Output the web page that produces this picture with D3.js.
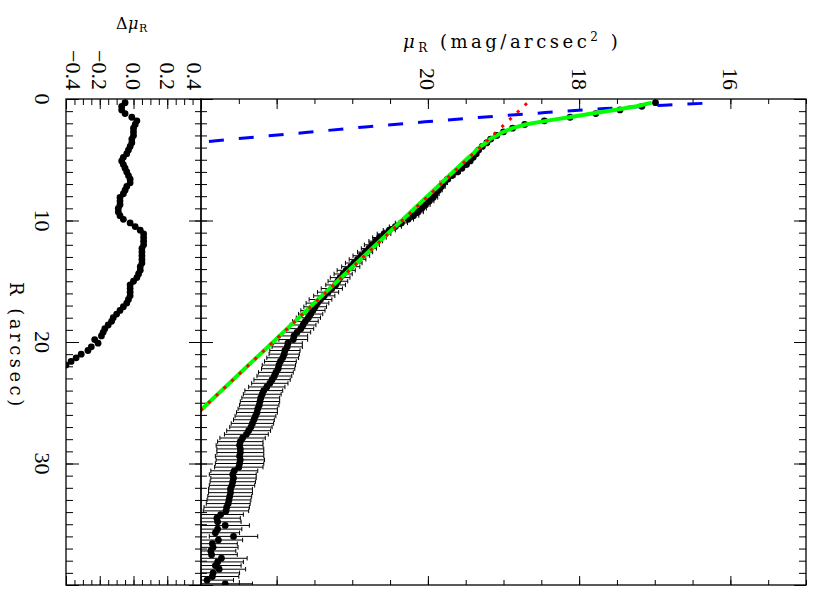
<!DOCTYPE html>
<html>
<head>
<meta charset="utf-8">
<script src="https://cdn.jsdelivr.net/npm/d3@7"></script>
<style>
  html, body { margin: 0; padding: 0; background: #fff; }
  svg { display: block; }
</style>
</head>
<body>
<svg id="chart" width="817" height="593"></svg>
<script>
// Radial surface-brightness profile (R band) with bulge/disk decomposition

// sampled radii (arcsec)
const radius = [
  0.3,0.6,0.9,1.2,1.5,1.8,2.1,2.4,2.7,
  3.0,3.3,3.6,3.9,4.2,4.5,4.8,5.1,5.4,5.7,
  6.0,6.3,6.6,6.9,7.2,7.5,7.8,8.1,8.4,8.7,
  9.0,9.3,9.6,9.9,10.2,10.5,10.8,11.1,11.4,11.7,
  12.0,12.3,12.6,12.9,13.2,13.5,13.8,14.1,14.4,14.7,
  15.0,15.3,15.6,15.9,16.2,16.5,16.8,17.1,17.4,17.7,
  18.0,18.3,18.6,18.9,19.2,19.5,19.8,20.1,20.4,20.7,
  21.0,21.3,21.6,21.9,22.2,22.5,22.8,23.1,23.4,23.7,
  24.0,24.3,24.6,24.9,25.2,25.5,25.8,26.1,26.4,26.7,
  27.0,27.3,27.6,27.9,28.2,28.5,28.8,29.1,29.4,29.7,
  30.0,30.3,30.6,30.9,31.2,31.5,31.8,32.1,32.4,32.7,
  33.0,33.3,33.6,33.9,34.2,34.5,34.8,35.1,35.4,35.7,
  36.0,36.3,36.6,36.9,37.2,37.5,37.8,38.1,38.4,38.7,
  39.0,39.3,39.6,39.9
];

// observed surface brightness (mag/arcsec^2)
const muObs = [
  16.99,17.17,17.46,17.78,18.12,18.46,18.72,18.88,19.00,
  19.09,19.17,19.22,19.28,19.33,19.36,19.40,19.44,19.49,19.55,
  19.61,19.68,19.74,19.79,19.82,19.86,19.90,19.93,19.98,20.03,
  20.08,20.13,20.19,20.26,20.35,20.43,20.51,20.58,20.64,20.69,
  20.74,20.78,20.83,20.88,20.93,20.98,21.02,21.08,21.12,21.16,
  21.19,21.22,21.27,21.32,21.37,21.42,21.46,21.49,21.52,21.55,
  21.58,21.62,21.65,21.68,21.73,21.77,21.78,21.85,21.86,21.89,
  21.90,21.92,21.95,21.97,21.98,22.01,22.03,22.06,22.09,22.13,
  22.17,22.19,22.21,22.22,22.23,22.25,22.26,22.28,22.30,22.32,
  22.34,22.37,22.40,22.45,22.48,22.49,22.48,22.48,22.49,22.48,
  22.49,22.50,22.56,22.58,22.57,22.58,22.59,22.61,22.61,22.62,
  22.63,22.64,22.66,22.67,22.74,22.79,22.78,22.68,22.78,22.81,
  22.57,22.77,22.85,22.84,22.87,22.86,22.73,22.78,22.81,22.76,
  22.84,22.85,22.92,22.68
];

// 1-sigma uncertainty of each measurement (mag)
const muErr = [
  0.02,0.02,0.02,0.02,0.02,0.02,0.02,0.02,0.02,
  0.03,0.03,0.03,0.03,0.03,0.03,0.03,0.03,0.03,0.03,
  0.04,0.04,0.04,0.05,0.05,0.05,0.05,0.06,0.06,0.06,
  0.06,0.07,0.07,0.07,0.08,0.08,0.08,0.09,0.09,0.09,
  0.10,0.10,0.10,0.11,0.11,0.11,0.12,0.12,0.12,0.13,
  0.13,0.13,0.14,0.14,0.14,0.15,0.15,0.15,0.16,0.16,
  0.16,0.17,0.17,0.17,0.18,0.18,0.19,0.19,0.20,0.20,
  0.20,0.21,0.21,0.22,0.22,0.23,0.23,0.24,0.24,0.24,
  0.25,0.25,0.25,0.26,0.26,0.26,0.27,0.27,0.27,0.28,
  0.28,0.29,0.29,0.30,0.30,0.31,0.31,0.31,0.32,0.32,
  0.32,0.32,0.31,0.31,0.30,0.30,0.30,0.29,0.29,0.29,
  0.29,0.29,0.30,0.30,0.30,0.31,0.31,0.32,0.32,0.32,
  0.32,0.32,0.33,0.33,0.33,0.34,0.34,0.34,0.34,0.35,
  0.35,0.35,0.35,0.36
];

// observed minus model (mag), for the inner radii
const residual = [
  -0.05,-0.07,-0.07,-0.05,-0.01,0.02,0.01,0.00,0.00,
  0.00,-0.01,-0.01,-0.02,-0.03,-0.04,-0.06,-0.07,-0.06,-0.05,
  -0.04,-0.03,-0.02,-0.02,-0.04,-0.05,-0.06,-0.08,-0.08,-0.08,
  -0.09,-0.09,-0.08,-0.06,-0.02,0.01,0.04,0.06,0.06,0.06,
  0.06,0.05,0.05,0.05,0.05,0.05,0.04,0.04,0.03,0.02,
  0.00,-0.02,-0.02,-0.02,-0.02,-0.03,-0.04,-0.06,-0.08,-0.10,
  -0.12,-0.13,-0.15,-0.17,-0.18,-0.19,-0.23,-0.21,-0.25,-0.27,
  -0.31,-0.34,-0.37,-0.40
];

// total model (bulge + disk)
const totalR  = [0.3,0.6,0.9,1.2,1.5,1.8,2.1,2.4,2.7,3.0,3.3,3.6,3.9,4.2,4.5,4.8,26.0];
const totalMu = [17.04,17.24,17.53,17.83,18.13,18.44,18.71,18.88,19.00,19.09,19.18,19.23,19.30,19.36,19.40,19.46,23.07];

// exponential disk component
const diskR  = [0.35, 26.0];
const diskMu = [18.69, 23.07];

// bulge component
const bulgeR  = [0.36,0.51,0.79,1.12,1.48,1.88,2.30,2.76,3.21,3.60];
const bulgeMu = [16.37,16.88,17.66,18.45,19.24,20.04,20.83,21.62,22.42,23.05];

// tick labels
const muTickLabels  = [20, 18, 16];
const resTickLabels = [-0.4, -0.2, 0.0, 0.2, 0.4];
const rTickLabels   = [0, 10, 20, 30];

// ---------------------------------------------------------------
const svg = d3.select("#chart");
const frame = { top: 99, bottom: 585, resLeft: 66, split: 201, right: 806 };

const yR   = d3.scaleLinear().domain([0, 40]).range([frame.top, frame.bottom]);
const xMu  = d3.scaleLinear().domain([23, 15]).range([frame.split, frame.right]);
const xRes = d3.scaleLinear().domain([-0.4, 0.4]).range([frame.resLeft, frame.split]);

const tickFont = "'Liberation Serif', 'Times New Roman', serif";
const titleFont = "'DejaVu Serif', serif";

const defs = svg.append("defs");
defs.append("clipPath").attr("id", "clipMain").append("rect")
  .attr("x", frame.split).attr("y", frame.top)
  .attr("width", frame.right - frame.split).attr("height", frame.bottom - frame.top);
defs.append("clipPath").attr("id", "clipRes").append("rect")
  .attr("x", frame.resLeft).attr("y", frame.top)
  .attr("width", frame.split - frame.resLeft).attr("height", frame.bottom - frame.top);

// ---- ticks ----
function ticks(axisFn, scale, values, size, transform) {
  const g = svg.append("g")
    .attr("transform", transform)
    .call(axisFn(scale).tickValues(values).tickSize(-size).tickFormat(""));
  g.select(".domain").remove();
  g.selectAll(".tick line").attr("stroke", "#000").attr("stroke-width", 1);
  g.selectAll("text").remove();
}

const rMinor  = d3.range(0, 40.01, 1);
const rMajor  = d3.range(0, 40.01, 10);
const muMinor = d3.range(15, 23.01, 0.5);
const muMajor = d3.range(16, 23.01, 2);
const resMinor = d3.range(-0.4, 0.4001, 0.05).map(v => +v.toFixed(2));
const resMajor = [-0.4, -0.2, 0, 0.2, 0.4];

// main panel
ticks(d3.axisTop, xMu, muMinor, 5, `translate(0,${frame.top})`);
ticks(d3.axisTop, xMu, muMajor, 10, `translate(0,${frame.top})`);
ticks(d3.axisBottom, xMu, muMinor, 5, `translate(0,${frame.bottom})`);
ticks(d3.axisBottom, xMu, muMajor, 9, `translate(0,${frame.bottom})`);
ticks(d3.axisLeft, yR, rMinor, 6, `translate(${frame.split},0)`);
ticks(d3.axisLeft, yR, rMajor, 12, `translate(${frame.split},0)`);
ticks(d3.axisRight, yR, rMinor, 7, `translate(${frame.right},0)`);
ticks(d3.axisRight, yR, rMajor, 12, `translate(${frame.right},0)`);

// residual panel
ticks(d3.axisTop, xRes, resMinor, 6, `translate(0,${frame.top})`);
ticks(d3.axisTop, xRes, resMajor, 10, `translate(0,${frame.top})`);
ticks(d3.axisBottom, xRes, resMinor, 5, `translate(0,${frame.bottom})`);
ticks(d3.axisBottom, xRes, resMajor, 9, `translate(0,${frame.bottom})`);
ticks(d3.axisLeft, yR, rMinor, 7, `translate(${frame.resLeft},0)`);
ticks(d3.axisLeft, yR, rMajor, 13, `translate(${frame.resLeft},0)`);
ticks(d3.axisRight, yR, rMinor, 6, `translate(${frame.split},0)`);
ticks(d3.axisRight, yR, rMajor, 12, `translate(${frame.split},0)`);

// ---- profile data ----
const profile = radius.map((r, i) => ({ r, mu: muObs[i], err: muErr[i] }));
const gMain = svg.append("g").attr("clip-path", "url(#clipMain)");

const bars = gMain.append("g").attr("stroke", "#000").attr("stroke-width", 1);
bars.selectAll("line.bar").data(profile).join("line").attr("class", "bar")
  .attr("x1", d => xMu(d.mu + d.err)).attr("x2", d => xMu(d.mu - d.err))
  .attr("y1", d => yR(d.r)).attr("y2", d => yR(d.r));
bars.selectAll("line.capL").data(profile).join("line").attr("class", "capL")
  .attr("x1", d => xMu(d.mu + d.err)).attr("x2", d => xMu(d.mu + d.err))
  .attr("y1", d => yR(d.r) - 2.2).attr("y2", d => yR(d.r) + 2.2);
bars.selectAll("line.capR").data(profile).join("line").attr("class", "capR")
  .attr("x1", d => xMu(d.mu - d.err)).attr("x2", d => xMu(d.mu - d.err))
  .attr("y1", d => yR(d.r) - 2.2).attr("y2", d => yR(d.r) + 2.2);

gMain.append("g").selectAll("circle").data(profile).join("circle")
  .attr("cx", d => xMu(d.mu)).attr("cy", d => yR(d.r)).attr("r", 3.4).attr("fill", "#000");

// ---- model curves ----
const modelLine = d3.line().x(d => xMu(d[1])).y(d => yR(d[0]));

gMain.append("path").datum(bulgeR.map((r, i) => [r, bulgeMu[i]]))
  .attr("d", modelLine).attr("fill", "none")
  .attr("stroke", "#0000ff").attr("stroke-width", 3).attr("stroke-dasharray", "15,15");

gMain.append("path").datum(totalR.map((r, i) => [r, totalMu[i]]))
  .attr("d", modelLine).attr("fill", "none")
  .attr("stroke", "#00ff00").attr("stroke-width", 4).attr("stroke-linejoin", "round");

gMain.append("path").datum(diskR.map((r, i) => [r, diskMu[i]]))
  .attr("d", modelLine).attr("fill", "none")
  .attr("stroke", "#ff0000").attr("stroke-width", 3).attr("stroke-dasharray", "3,7.6");

// ---- residuals ----
const gRes = svg.append("g").attr("clip-path", "url(#clipRes)");
gRes.selectAll("circle").data(residual.map((v, i) => ({ r: radius[i], v }))).join("circle")
  .attr("cx", d => xRes(d.v)).attr("cy", d => yR(d.r)).attr("r", 3.4).attr("fill", "#000");

// ---- frames ----
svg.append("rect").attr("x", frame.split).attr("y", frame.top)
  .attr("width", frame.right - frame.split).attr("height", frame.bottom - frame.top)
  .attr("fill", "none").attr("stroke", "#000").attr("stroke-width", 1.3);
svg.append("rect").attr("x", frame.resLeft).attr("y", frame.top)
  .attr("width", frame.split - frame.resLeft).attr("height", frame.bottom - frame.top)
  .attr("fill", "none").attr("stroke", "#000").attr("stroke-width", 1.3);

// ---- tick labels (rotated, reading downward) ----
const digitH = 15;
svg.append("g").selectAll("text").data(muTickLabels).join("text")
  .attr("transform", d => `translate(${Math.min(xMu(d) - digitH / 2, frame.right - 14)},90) rotate(90)`)
  .attr("text-anchor", "end").attr("font-family", tickFont).attr("font-size", 22)
  .text(d => d3.format("d")(d));

svg.append("g").selectAll("text").data(resTickLabels).join("text")
  .attr("transform", d => {
    const x = Math.max(frame.resLeft, Math.min(xRes(d) - digitH / 2, frame.split - 14));
    return `translate(${x},90) rotate(90)`;
  })
  .attr("text-anchor", "end").attr("font-family", tickFont).attr("font-size", 22)
  .text(d => d3.format(".1f")(d));

svg.append("g").selectAll("text").data(rTickLabels).join("text")
  .attr("transform", d => `translate(35,${yR(d)}) rotate(90)`)
  .attr("text-anchor", "middle").attr("font-family", tickFont).attr("font-size", 22)
  .text(d => d3.format("d")(d));

// ---- axis titles ----
const tMu = svg.append("text").attr("x", 403).attr("y", 48)
  .attr("font-family", titleFont).attr("font-size", 18).attr("letter-spacing", 3.5);
tMu.append("tspan").attr("font-style", "italic").text("\u03bc");
tMu.append("tspan").attr("font-size", 12).attr("dy", 4).text("R");
tMu.append("tspan").attr("dy", -4).text(" (mag/arcsec");
tMu.append("tspan").attr("font-size", 12).attr("dy", -7).text("2");
tMu.append("tspan").attr("dy", 7).text(" )");

const tRes = svg.append("text").attr("x", 116).attr("y", 29)
  .attr("font-family", titleFont).attr("font-size", 16).attr("letter-spacing", 0.5);
tRes.append("tspan").text("\u0394");
tRes.append("tspan").attr("font-style", "italic").text("\u03bc");
tRes.append("tspan").attr("font-size", 11).attr("dy", 3).text("R");

svg.append("text").attr("transform", "translate(10,282) rotate(90)")
  .attr("font-family", titleFont).attr("font-size", 18).attr("letter-spacing", 3.5)
  .text("R (arcsec)");
</script>
</body>
</html>
